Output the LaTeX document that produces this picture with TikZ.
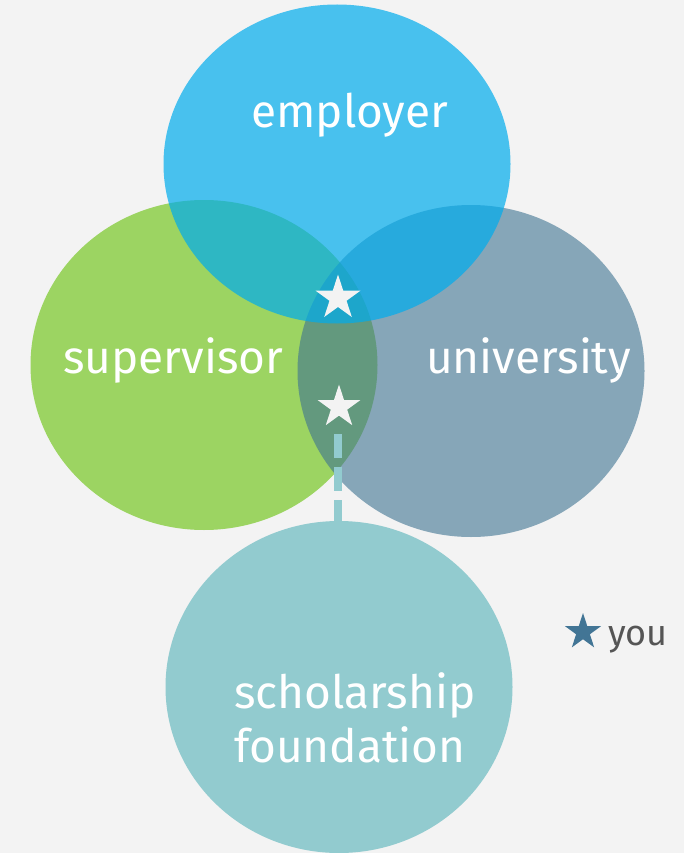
\documentclass[tikz,border=0pt]{standalone}
\usepackage{fontspec}
\setmainfont{Fira Sans}
\usetikzlibrary{shapes.geometric}
\usetikzlibrary{positioning}
\definecolor{bgcolor}{HTML}{F3F3F3}
\definecolor{employerblue}{HTML}{00ACED}
\definecolor{supervisorgreen}{HTML}{9CD462}
\definecolor{universityslate}{HTML}{3E7391}
\definecolor{foundationteal}{HTML}{92CBCF}
\definecolor{youblue}{HTML}{427595}
\definecolor{yougrey}{HTML}{555555}

\begin{document}
\begin{tikzpicture}[x=1pt, y=-1pt,
    party/.style = {ellipse, minimum width=347pt, inner sep=0pt, draw=none},
    partylabel/.style = {anchor=base west, inner sep=0pt, text=white,
      font=\fontsize{46}{54}\selectfont},
    youstar/.style = {star, star points=5, star point ratio=2.618,
      inner sep=0pt, draw=none}
  ]
  \fill[bgcolor] (0,0) rectangle (684,853);
  \useasboundingbox (0,0) rectangle (684,853);

  % the four circles
  \node (foundation) [party, minimum height=332pt, fill=foundationteal] at (339,687) {};
  \node (supervisor) [party, minimum height=330pt, fill=supervisorgreen] at (204,365) {};
  \node (university) [party, minimum height=332pt, fill=universityslate, fill opacity=0.6] at (471,371) {};
  \node (employer) [party, minimum height=319pt, fill=employerblue, fill opacity=0.7] at (337,164) {};

  % you, twice
  \node (youtop) [youstar, minimum size=47pt, fill=bgcolor] at (338,298) {};
  \node (youmid) [youstar, minimum size=45pt, fill=bgcolor] at (339,407) {};
  \coordinate (dashstart) at (338,434);
  \draw [foundationteal, line width=8pt, dash pattern=on 24pt off 9pt]
    (dashstart) -- (dashstart |- foundation.north);

  % labels
  \node (employerlabel) [partylabel] at (251,128) {employer};
  \node (supervisorlabel) [partylabel] at (63,373) {supervisor};
  \node (universitylabel) [partylabel] at (426,373) {university};
  \node (scholarshiplabel) [partylabel] at (234,708) {scholarship};
  \node (foundationlabel) [partylabel] at ([yshift=-54pt]scholarshiplabel.base west) {foundation};

  % legend
  \node (legendstar) [youstar, minimum size=38pt, fill=youblue] at (583,632) {};
  \node (youlabel) [anchor=base west, inner sep=0pt, text=yougrey,
    font=\fontsize{36}{40}\selectfont] at (608,645) {you};
\end{tikzpicture}
\end{document}
